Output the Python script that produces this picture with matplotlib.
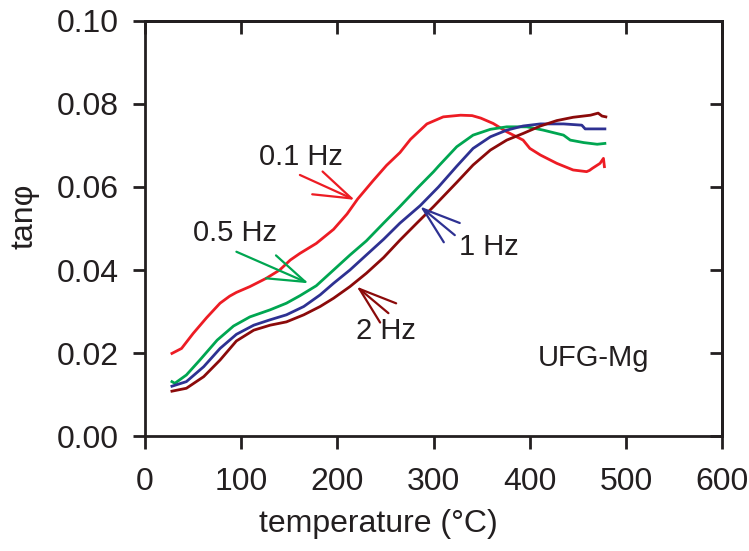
import matplotlib
matplotlib.use("Agg")
import matplotlib.pyplot as plt

plt.rcParams['font.family'] = ['Liberation Sans', 'DejaVu Sans']

# tan(phi) vs temperature for UFG-Mg at four frequencies
t_01 = [28, 38, 50, 64, 78, 88, 95, 109, 126, 140, 151, 161, 178, 196, 210, 221, 237,
        251, 265, 276, 293, 310, 328, 340, 349, 362, 376, 393, 400, 411, 428, 445,
        459, 462, 465, 473, 476.5, 477.5]
tan_01 = [0.0199, 0.0211, 0.0247, 0.0285, 0.0320, 0.0337, 0.0346, 0.0360, 0.0380, 0.0400,
          0.0424, 0.0440, 0.0464, 0.0498, 0.0535, 0.0571, 0.0615, 0.0652, 0.0683,
          0.0715, 0.0752, 0.0769, 0.0773, 0.0772, 0.0766, 0.0753, 0.0733, 0.0713,
          0.0693, 0.0677, 0.0657, 0.0641, 0.0637, 0.0640, 0.0645, 0.0657, 0.0669,
          0.0649]

t_05 = [28, 31, 43, 57, 75, 92, 109, 130, 147, 161, 178, 196, 213, 230, 248, 265,
        283, 300, 305, 324, 341, 359, 376, 397, 414, 435, 442, 456, 470, 478]
tan_05 = [0.0131, 0.0127, 0.0147, 0.0183, 0.0231, 0.0265, 0.0287, 0.0304, 0.0320,
          0.0338, 0.0362, 0.0400, 0.0436, 0.0470, 0.0513, 0.0553, 0.0597, 0.0637,
          0.0650, 0.0697, 0.0725, 0.0739, 0.0745, 0.0745, 0.0737, 0.0725, 0.0713,
          0.0707, 0.0703, 0.0705]

t_1 = [28, 43, 61, 78, 95, 113, 130, 147, 165, 182, 196, 213, 230, 248, 265, 286,
       305, 324, 341, 359, 376, 393, 411, 435, 454, 457.5, 478]
tan_1 = [0.0120, 0.0131, 0.0167, 0.0211, 0.0245, 0.0267, 0.0280, 0.0292, 0.0312,
         0.0340, 0.0368, 0.0400, 0.0436, 0.0474, 0.0513, 0.0555, 0.0600, 0.0650,
         0.0693, 0.0721, 0.0737, 0.0747, 0.0752, 0.0752, 0.0749, 0.0740, 0.0740]

t_2 = [28, 43, 61, 78, 95, 113, 130, 147, 165, 182, 196, 213, 230, 248, 265, 283,
       300, 324, 341, 359, 376, 393, 411, 428, 445, 463, 471, 475, 479]
tan_2 = [0.0108, 0.0115, 0.0143, 0.0183, 0.0229, 0.0255, 0.0267, 0.0275, 0.0292,
         0.0312, 0.0332, 0.0360, 0.0392, 0.0430, 0.0472, 0.0514, 0.0553, 0.0611,
         0.0653, 0.0689, 0.0713, 0.0729, 0.0747, 0.0760, 0.0768, 0.0773, 0.0778,
         0.0771, 0.0769]

xticks = [0, 100, 200, 300, 400, 500, 600]
yticks = [0.00, 0.02, 0.04, 0.06, 0.08, 0.10]

c_01 = '#ED1C24'
c_05 = '#00A651'
c_1 = '#2E3192'
c_2 = '#8B0A0A'
ink = '#231f20'

fig = plt.figure(figsize=(7.49, 5.51), dpi=100)
ax = fig.add_axes([0.1936, 0.2087, 0.7707, 0.7532])

ax.plot(t_01, tan_01, color=c_01, lw=2)
ax.plot(t_05, tan_05, color=c_05, lw=2)
ax.plot(t_1, tan_1, color=c_1, lw=2)
ax.plot(t_2, tan_2, color=c_2, lw=2)

ax.set_xlim(0, 600)
ax.set_ylim(0, 0.10)
ax.set_xticks(xticks)
ax.set_yticks(yticks)
ax.set_yticklabels([f"{v:.2f}" for v in yticks])
ax.tick_params(direction='out', length=9, width=2, labelsize=23,
               colors=ink, top=False, right=False)
ax.tick_params(axis='x', pad=13)
ax.tick_params(axis='y', pad=10)
for sp in ax.spines.values():
    sp.set_linewidth(2)
    sp.set_color(ink)

# top and right ticks point inwards
secx = ax.secondary_xaxis('top')
secx.set_xticks(xticks)
secx.tick_params(direction='in', length=9, width=2, labeltop=False, colors=ink)
secx.spines['top'].set_linewidth(2)
secy = ax.secondary_yaxis('right')
secy.set_yticks(yticks)
secy.tick_params(direction='in', length=9, width=2, labelright=False, colors=ink)
secy.spines['right'].set_linewidth(2)

ax.set_xlabel('temperature (°C)', fontsize=23, color=ink)
ax.set_ylabel('tanφ', fontsize=23, color=ink)
ax.xaxis.set_label_coords(0.404, -0.175)
ax.yaxis.set_label_coords(-0.182, 0.53)

# labels with open-headed arrows
arrow = '->,head_length=0.9,head_width=0.3'
labels = [
    ('0.1 Hz', (162, 0.0672), (161, 0.0629), (218, 0.0569), c_01),
    ('0.5 Hz', (94, 0.0490), (95, 0.0444), (170, 0.0368), c_05),
    ('1 Hz', (357, 0.0455), (322, 0.0484), (286, 0.0553), c_1),
    ('2 Hz', (250, 0.0253), (253, 0.0296), (220, 0.0360), c_2),
]
for txt, pos, tail, tip, col in labels:
    ax.text(pos[0], pos[1], txt, fontsize=21, color=ink,
            ha='center', va='center')
    ax.annotate('', xy=tip, xytext=tail,
                arrowprops=dict(arrowstyle=arrow, color=col, lw=1.6,
                                mutation_scale=30, shrinkA=0, shrinkB=0))

ax.text(466, 0.0188, 'UFG-Mg', fontsize=21, color=ink,
        ha='center', va='center')

fig.savefig('out.png', dpi=100)
